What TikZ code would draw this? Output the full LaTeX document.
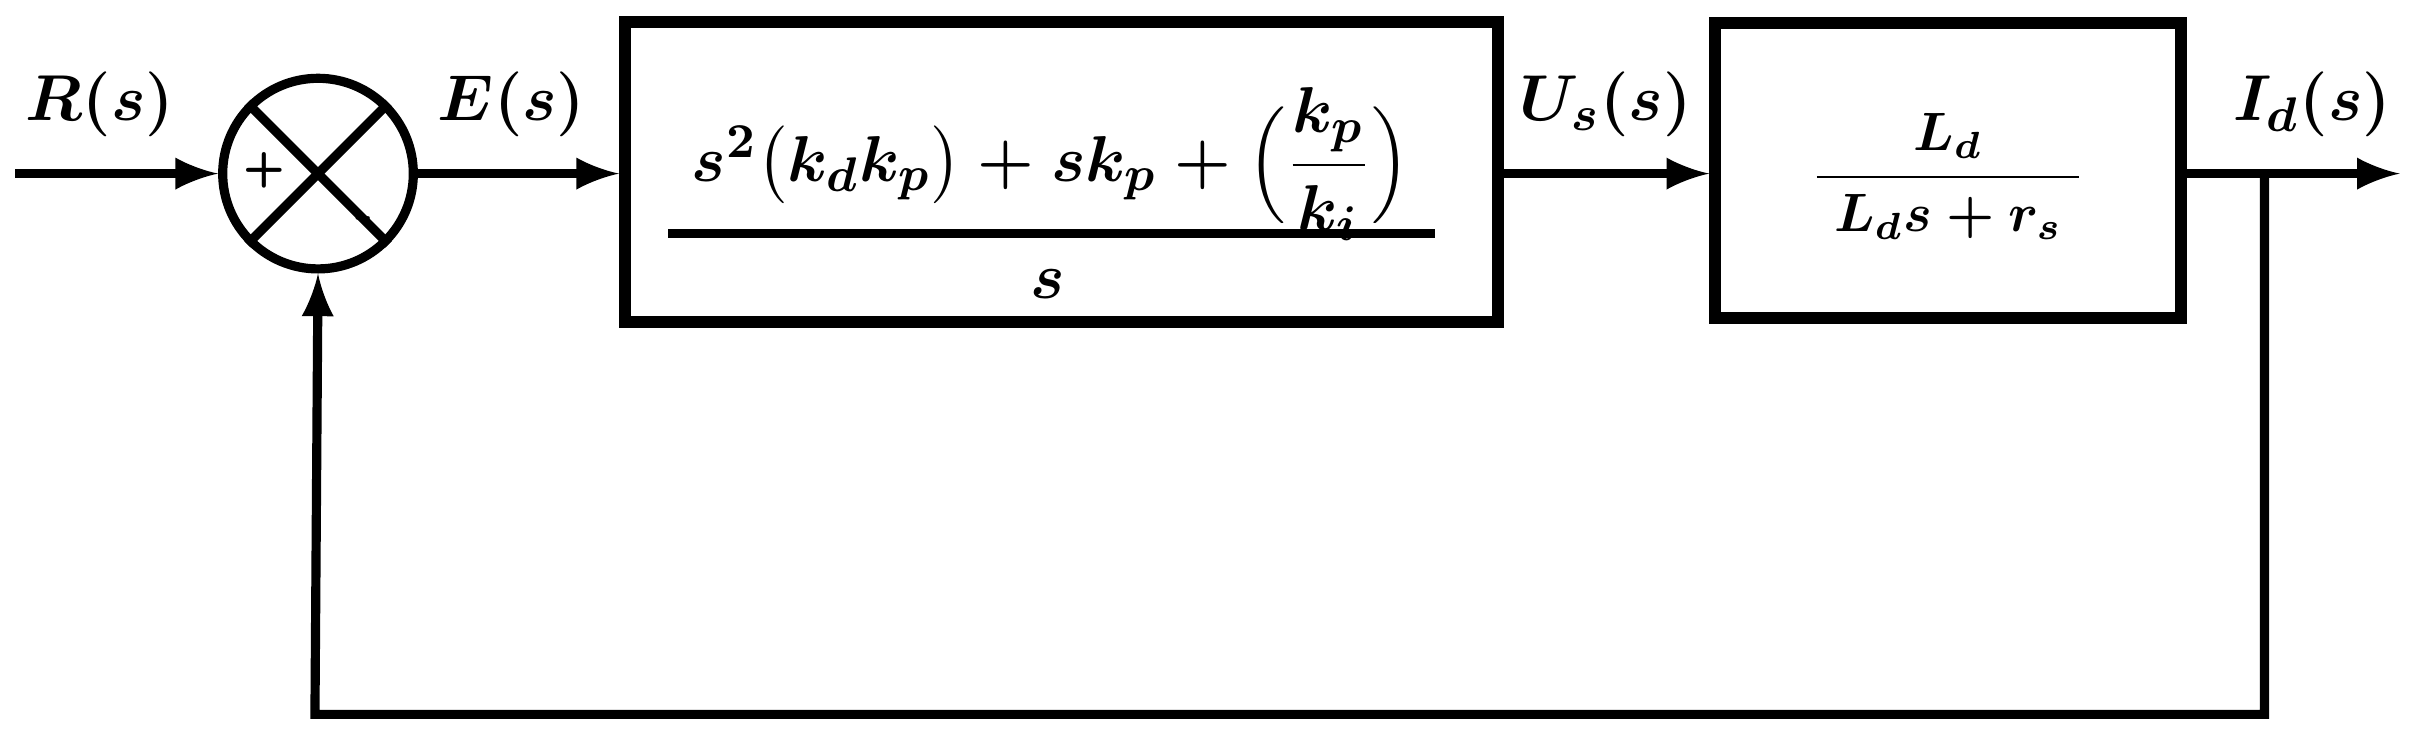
\documentclass[tikz,border=0pt]{standalone}
\usepackage{amsmath}
\begin{document}
\begin{tikzpicture}[x=0.01cm,y=-0.01cm,line width=1.7pt,
  blk/.style={draw,rectangle,line width=2.2pt,inner sep=0pt},
  lbl/.style={font=\fontsize{13}{15}\selectfont\boldmath},
  >={latex}]
\useasboundingbox (0,0) rectangle (1568,482);
\node[draw,circle,minimum size=1.24cm,inner sep=0pt] (sum) at (207,113) {};
\draw (sum.north west) -- (sum.south east);
\draw (sum.north east) -- (sum.south west);
\node[font=\sffamily\bfseries\small] at (172,111) {+};
\node[font=\sffamily\bfseries\small] at (237,145) {-};
\coordinate (in) at (10,113);
\node[blk,minimum width=5.68cm,minimum height=1.95cm] (b1) at (691,112) {};
\node[lbl] (num) at (684,107) {$s^2\big(k_dk_p\big)+sk_p+\Big(\dfrac{k_p}{k_i}\Big)$};
\coordinate (fl) at (435,152);
\coordinate (fr) at (934,152);
\draw[line width=1.5pt] (fl) -- (fr);
\node[lbl] at (682,185) {$s$};
\node[blk,minimum width=3.03cm,minimum height=1.92cm] (b2) at (1268,111) {};
\node[font=\fontsize{10}{12}\selectfont\boldmath] at (1268,115) {$\dfrac{L_d}{\;L_ds+r_s\;}$};
\coordinate (out) at (1562,113);
\coordinate (tap) at (1474,113);
\coordinate (c1) at (1474,465);
\coordinate (c2) at (205,465);
\draw[->] (in) -- (sum.west);
\draw[->] (sum.east) -- (b1.west |- sum.east);
\draw[->] (b1.east |- sum.east) -- (b2.west |- sum.east);
\draw[->] (b2.east |- sum.east) -- (out);
\draw[->] (tap) -- (c1) -- (c2) -- (sum.south);
\node[lbl] at (65,68) {$R(s)$};
\node[lbl] at (333,68) {$E(s)$};
\node[lbl] at (1045,68) {$U_s(s)$};
\node[lbl] at (1505,68) {$I_d(s)$};
\end{tikzpicture}
\end{document}
